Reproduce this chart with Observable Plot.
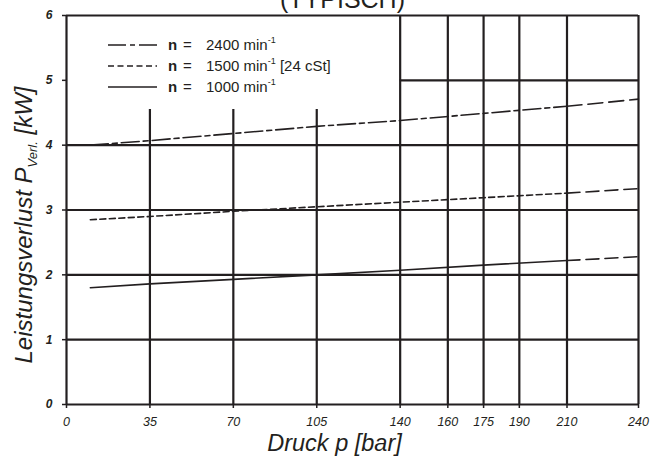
<!DOCTYPE html>
<html>
<head>
<meta charset="utf-8">
<script src="https://cdn.jsdelivr.net/npm/d3@7"></script>
<script src="https://cdn.jsdelivr.net/npm/@observablehq/plot@0.6"></script>
<style>
  html, body { margin: 0; padding: 0; background: #fff; }
  #wrap { position: relative; width: 650px; height: 457px; font-family: "Liberation Sans", Arial, sans-serif; }
  #legend { position: absolute; left: 108px; top: 34px; font-size: 15px; color: #231f20; }
  #legend .row { height: 21px; display: flex; align-items: center; white-space: pre; }
  #legend svg { width: 49px; height: 6px; margin-right: 11px; }
  #legend .sup { font-size: 9px; position: relative; top: -5px; }
  #legend .n { display: inline-block; width: 15px; font-weight: bold; }
  #legend .eq { display: inline-block; width: 23px; }
</style>
</head>
<body>
<div id="wrap"></div>
<script>
// ---- data ----
const pressure = [10, 35, 70, 105, 140, 175, 210, 240];
const n2400 = [4.00, 4.07, 4.18, 4.29, 4.38, 4.49, 4.60, 4.71];
const n1500 = [2.85, 2.90, 2.98, 3.05, 3.12, 3.19, 3.26, 3.33];
const n1000 = [1.80, 1.86, 1.93, 2.00, 2.07, 2.15, 2.22, 2.28];
const measuredUpTo = 210;
const xTicks = [0, 35, 70, 105, 140, 160, 175, 190, 210, 240];
const yTicks = [0, 1, 2, 3, 4, 5, 6];
const seriesNames = ["n = 2400 min-1", "n = 1500 min-1 [24 cSt]", "n = 1000 min-1"];
const gridFullY = [1, 2, 3, 4];
const gridPartY = [5];
const gridShortX = [35, 70, 105];
const gridShortTop = 4.55;
const gridFullX = [140, 160, 175, 190, 210];
const title = "(TYPISCH)";
const xLabel = "Druck p [bar]";
const yLabel = "Leistungsverlust P Verl. [kW]";

// ---- tidy rows ----
function rows(vals) {
  return pressure.map((p, i) => ({p, v: vals[i]}));
}
const s2400 = rows(n2400), s1500 = rows(n1500), s1000 = rows(n1000);
const main = s => s.filter(d => d.p <= measuredUpTo);
const ext = s => s.filter(d => d.p >= measuredUpTo);

const ink = "#231f20";
const gridW = 2.2;

const chart = Plot.plot({
  width: 650,
  height: 457,
  marginLeft: 66,
  marginRight: 12,
  marginTop: 15,
  marginBottom: 53,
  style: {fontFamily: "'Liberation Sans', Arial, sans-serif", color: ink, background: "#fff", overflow: "visible"},
  x: {domain: [0, 240], ticks: xTicks, label: null},
  y: {domain: [0, 6], ticks: yTicks, label: null},
  marks: [
    Plot.ruleY(gridFullY, {stroke: ink, strokeWidth: gridW}),
    Plot.ruleY(gridPartY, {x1: 140, x2: 240, stroke: ink, strokeWidth: gridW}),
    Plot.ruleX(gridShortX, {y1: 0, y2: gridShortTop, stroke: ink, strokeWidth: gridW}),
    Plot.ruleX(gridFullX, {stroke: ink, strokeWidth: gridW}),
    Plot.ruleX([0, 240], {stroke: ink, strokeWidth: gridW}),
    Plot.ruleY([0, 6], {stroke: ink, strokeWidth: gridW}),
    Plot.axisX({ticks: xTicks, tickSize: 4, tickPadding: 9, fontSize: 12.5, fontStyle: "italic", label: null, strokeWidth: 1.5}),
    Plot.axisY({ticks: yTicks, tickSize: 4, tickPadding: 10, fontSize: 12, fontStyle: "italic", fontWeight: "bold", tickFormat: d3.format("d"), label: null, strokeWidth: 1.5}),
    // 2400
    Plot.line(main(s2400), {x: "p", y: "v", stroke: ink, strokeWidth: 1.6, strokeDasharray: "18,4,5,4"}),
    Plot.line(ext(s2400), {x: "p", y: "v", stroke: ink, strokeWidth: 1.6, strokeDasharray: "15,6"}),
    // 1500
    Plot.line(main(s1500), {x: "p", y: "v", stroke: ink, strokeWidth: 1.6, strokeDasharray: "6,3.5"}),
    Plot.line(ext(s1500), {x: "p", y: "v", stroke: ink, strokeWidth: 1.6, strokeDasharray: "13,6"}),
    // 1000
    Plot.line(main(s1000), {x: "p", y: "v", stroke: ink, strokeWidth: 1.6}),
    Plot.line(ext(s1000), {x: "p", y: "v", stroke: ink, strokeWidth: 1.6, strokeDasharray: "13,6"}),
    // titles
    Plot.text([title], {frameAnchor: "top", text: d => d, dy: -25, dx: -10, lineAnchor: "top", fontSize: 25, fill: ink}),
    Plot.text([xLabel], {frameAnchor: "bottom", text: d => d, dy: 46, dx: -18, fontSize: 23.5, fontStyle: "italic", fill: ink}),
    Plot.text([yLabel], {frameAnchor: "left", text: d => d, dx: -42, dy: 15, rotate: -90, textAnchor: "middle", fontSize: 24, fontStyle: "italic", fill: ink})
  ]
});

document.getElementById("wrap").appendChild(chart);

// subscript for y label
d3.select(chart).selectAll("text").each(function() {
  const t = d3.select(this);
  if (t.text() === yLabel) {
    t.text(null);
    t.append("tspan").text("Leistungsverlust P");
    t.append("tspan").attr("font-size", 13).attr("dy", 5).text("Verl.");
    t.append("tspan").attr("dy", -5).text(" [kW]");
  }
});

// legend
const dashes = ["18,4,5,4", "6,3.5", null];
const legend = document.createElement("div");
legend.id = "legend";
seriesNames.forEach((name, i) => {
  const row = document.createElement("div");
  row.className = "row";
  const m = name.match(/^n = (\d+) min-1(.*)$/);
  row.innerHTML =
    `<svg viewBox="0 0 49 6"><line x1="0" x2="49" y1="3" y2="3" stroke="${ink}" stroke-width="1.6" ${dashes[i] ? `stroke-dasharray="${dashes[i]}"` : ""}/></svg>` +
    `<span class="n">n</span><span class="eq">=</span><span>${m[1]} min</span><span class="sup">-1</span><span>${m[2]}</span>`;
  legend.appendChild(row);
});
document.getElementById("wrap").appendChild(legend);
</script>
</body>
</html>
